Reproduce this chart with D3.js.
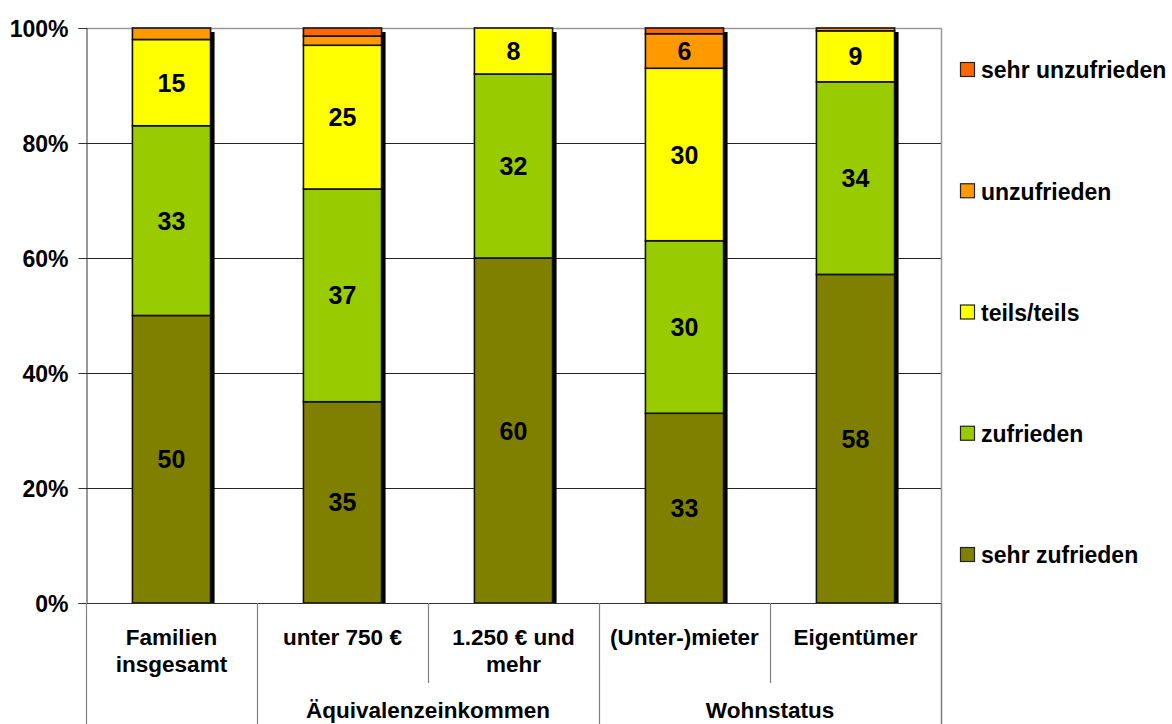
<!DOCTYPE html>
<html>
<head>
<meta charset="utf-8">
<script src="https://cdn.jsdelivr.net/npm/d3@7"></script>
<style>
  html, body { margin: 0; padding: 0; background: #fff; }
  svg { display: block; }
  text { font-family: "Liberation Sans", Arial, sans-serif; font-weight: bold; fill: #000; }
</style>
</head>
<body>
<svg id="chart" width="1172" height="724"></svg>
<script>
// Satisfaction categories (bottom to top of each stack)
const seriesNames = ["sehr zufrieden", "zufrieden", "teils/teils", "unzufrieden", "sehr unzufrieden"];
const seriesColors = ["#808000", "#99CC00", "#FFFF00", "#FF9900", "#FF6600"];

// Bars and their group headings
const categories = ["Familien insgesamt", "unter 750 €", "1.250 € und mehr", "(Unter-)mieter", "Eigentümer"];
const categoryLines = [["Familien", "insgesamt"], ["unter 750 €"], ["1.250 € und", "mehr"], ["(Unter-)mieter"], ["Eigentümer"]];
const groups = [
  { label: "", from: 0, to: 0 },
  { label: "Äquivalenzeinkommen", from: 1, to: 2 },
  { label: "Wohnstatus", from: 3, to: 4 }
];

// Shares in percent per series, one entry per bar
const sehrZufrieden   = [50, 35, 60, 33, 58];
const zufrieden       = [33, 37, 32, 30, 34];
const teilsTeils      = [15, 25, 8, 30, 9];
const unzufrieden     = [2, 1.6, 0, 6, 0.5];
const sehrUnzufrieden = [0, 1.4, 0, 1, 0];

const yTicks = [0, 0.2, 0.4, 0.6, 0.8, 1];

const seriesValues = [sehrZufrieden, zufrieden, teilsTeils, unzufrieden, sehrUnzufrieden];
const rows = categories.map((c, i) => {
  const r = { category: c };
  seriesNames.forEach((s, k) => { r[s] = seriesValues[k][i]; });
  return r;
});

const svg = d3.select("#chart");
const plot = { left: 86, right: 941, top: 28, bottom: 603 };

const x = d3.scaleBand().domain(categories).range([plot.left, plot.right]).padding(0);
const barW = x.bandwidth() * 0.457;
const y = d3.scaleLinear().domain([0, 1]).range([plot.bottom, plot.top]);

// 100 % stacked layout
const stacked = d3.stack().keys(seriesNames).offset(d3.stackOffsetExpand)(rows);

// Gridlines
svg.append("g").selectAll("line")
  .data(yTicks.filter(t => t > 0 && t < 1))
  .join("line")
  .attr("x1", plot.left).attr("x2", plot.right)
  .attr("y1", d => Math.round(y(d)) + 0.5).attr("y2", d => Math.round(y(d)) + 0.5)
  .attr("stroke", "#222").attr("stroke-width", 1);

// Plot-area frame (top and right)
svg.append("line").attr("x1", plot.left).attr("x2", plot.right)
  .attr("y1", plot.top + 0.5).attr("y2", plot.top + 0.5)
  .attr("stroke", "#999").attr("stroke-width", 1.5);
svg.append("line").attr("x1", plot.right + 0.5).attr("x2", plot.right + 0.5)
  .attr("y1", plot.top).attr("y2", 724)
  .attr("stroke", "#999").attr("stroke-width", 1.5);

// Y axis
const yAxis = d3.axisLeft(y).tickValues(yTicks).tickFormat(d3.format(".0%")).tickSize(8).tickPadding(10);
const gy = svg.append("g").attr("transform", `translate(${plot.left + 0.5},0)`).call(yAxis);
gy.select(".domain").attr("stroke", "#333");
gy.selectAll(".tick line").attr("stroke", "#333");
gy.selectAll(".tick text").style("font-size", "23px").attr("dy", "0.35em");

// Bar shadows
const shadowOffset = 4;
svg.append("defs").append("clipPath").attr("id", "plotClip")
  .append("rect").attr("x", plot.left).attr("y", 0).attr("width", plot.right - plot.left).attr("height", plot.bottom);
svg.append("g").attr("clip-path", "url(#plotClip)")
  .selectAll("rect").data(rows).join("rect")
  .attr("x", d => x(d.category) + (x.bandwidth() - barW) / 2 + shadowOffset)
  .attr("y", y(1) + shadowOffset)
  .attr("width", barW)
  .attr("height", y(0) - y(1))
  .attr("fill", "#000");

// Stacked segments
const segs = svg.append("g").selectAll("g").data(stacked).join("g")
  .attr("fill", (d, i) => seriesColors[i]);
segs.selectAll("rect")
  .data(d => d.filter(p => p[1] - p[0] > 0))
  .join("rect")
  .attr("x", p => x(p.data.category) + (x.bandwidth() - barW) / 2)
  .attr("y", p => y(p[1]))
  .attr("width", barW)
  .attr("height", p => y(p[0]) - y(p[1]))
  .attr("stroke", "#111").attr("stroke-width", 1.6);

// Value labels
stacked.forEach(s => {
  svg.append("g").selectAll("text")
    .data(s.filter(p => p.data[s.key] >= 5))
    .join("text")
    .attr("x", p => x(p.data.category) + x.bandwidth() / 2)
    .attr("y", p => (y(p[0]) + y(p[1])) / 2)
    .attr("dy", "0.36em")
    .attr("text-anchor", "middle")
    .style("font-size", "25px")
    .text(p => d3.format("d")(p.data[s.key]));
});

// X axis line
svg.append("line").attr("x1", plot.left).attr("x2", plot.right)
  .attr("y1", plot.bottom + 0.5).attr("y2", plot.bottom + 0.5)
  .attr("stroke", "#333").attr("stroke-width", 1.2);

// Category table separators
const bandEdges = d3.range(categories.length + 1).map(i => i === categories.length ? plot.right : x(categories[i]));
const groupEdges = new Set([0, ...groups.map(g => g.to + 1)]);
svg.append("g").selectAll("line").data(bandEdges).join("line")
  .attr("x1", d => Math.round(d) + 0.5).attr("x2", d => Math.round(d) + 0.5)
  .attr("y1", plot.bottom)
  .attr("y2", (d, i) => groupEdges.has(i) ? 724 : 683)
  .attr("stroke", "#808080").attr("stroke-width", 1.2);

// Category labels
svg.append("g").selectAll("text").data(categories).join("text")
  .attr("x", d => x(d) + x.bandwidth() / 2)
  .attr("y", 645)
  .attr("text-anchor", "middle")
  .style("font-size", "22.5px")
  .each(function (d, i) {
    d3.select(this).selectAll("tspan").data(categoryLines[i]).join("tspan")
      .attr("x", x(d) + x.bandwidth() / 2)
      .attr("dy", (t, k) => k === 0 ? 0 : 27)
      .text(t => t);
  });

// Group labels
svg.append("g").selectAll("text").data(groups.filter(g => g.label)).join("text")
  .attr("x", g => (x(categories[g.from]) + x(categories[g.to]) + x.bandwidth()) / 2)
  .attr("y", 718)
  .attr("text-anchor", "middle")
  .style("font-size", "22.5px")
  .text(g => g.label);

// Legend, top entry is the last series
const legendY = d3.scalePoint().domain(seriesNames.slice().reverse()).range([70, 555]);
const leg = svg.append("g").selectAll("g").data(seriesNames).join("g")
  .attr("transform", d => `translate(960,${legendY(d)})`);
leg.append("rect").attr("x", 0.5).attr("y", -7.5).attr("width", 14).attr("height", 14)
  .attr("fill", (d, i) => seriesColors[i]).attr("stroke", "#222").attr("stroke-width", 1.2);
leg.append("text").attr("x", 21).attr("dy", "0.36em").style("font-size", "23px").text(d => d);
</script>
</body>
</html>
